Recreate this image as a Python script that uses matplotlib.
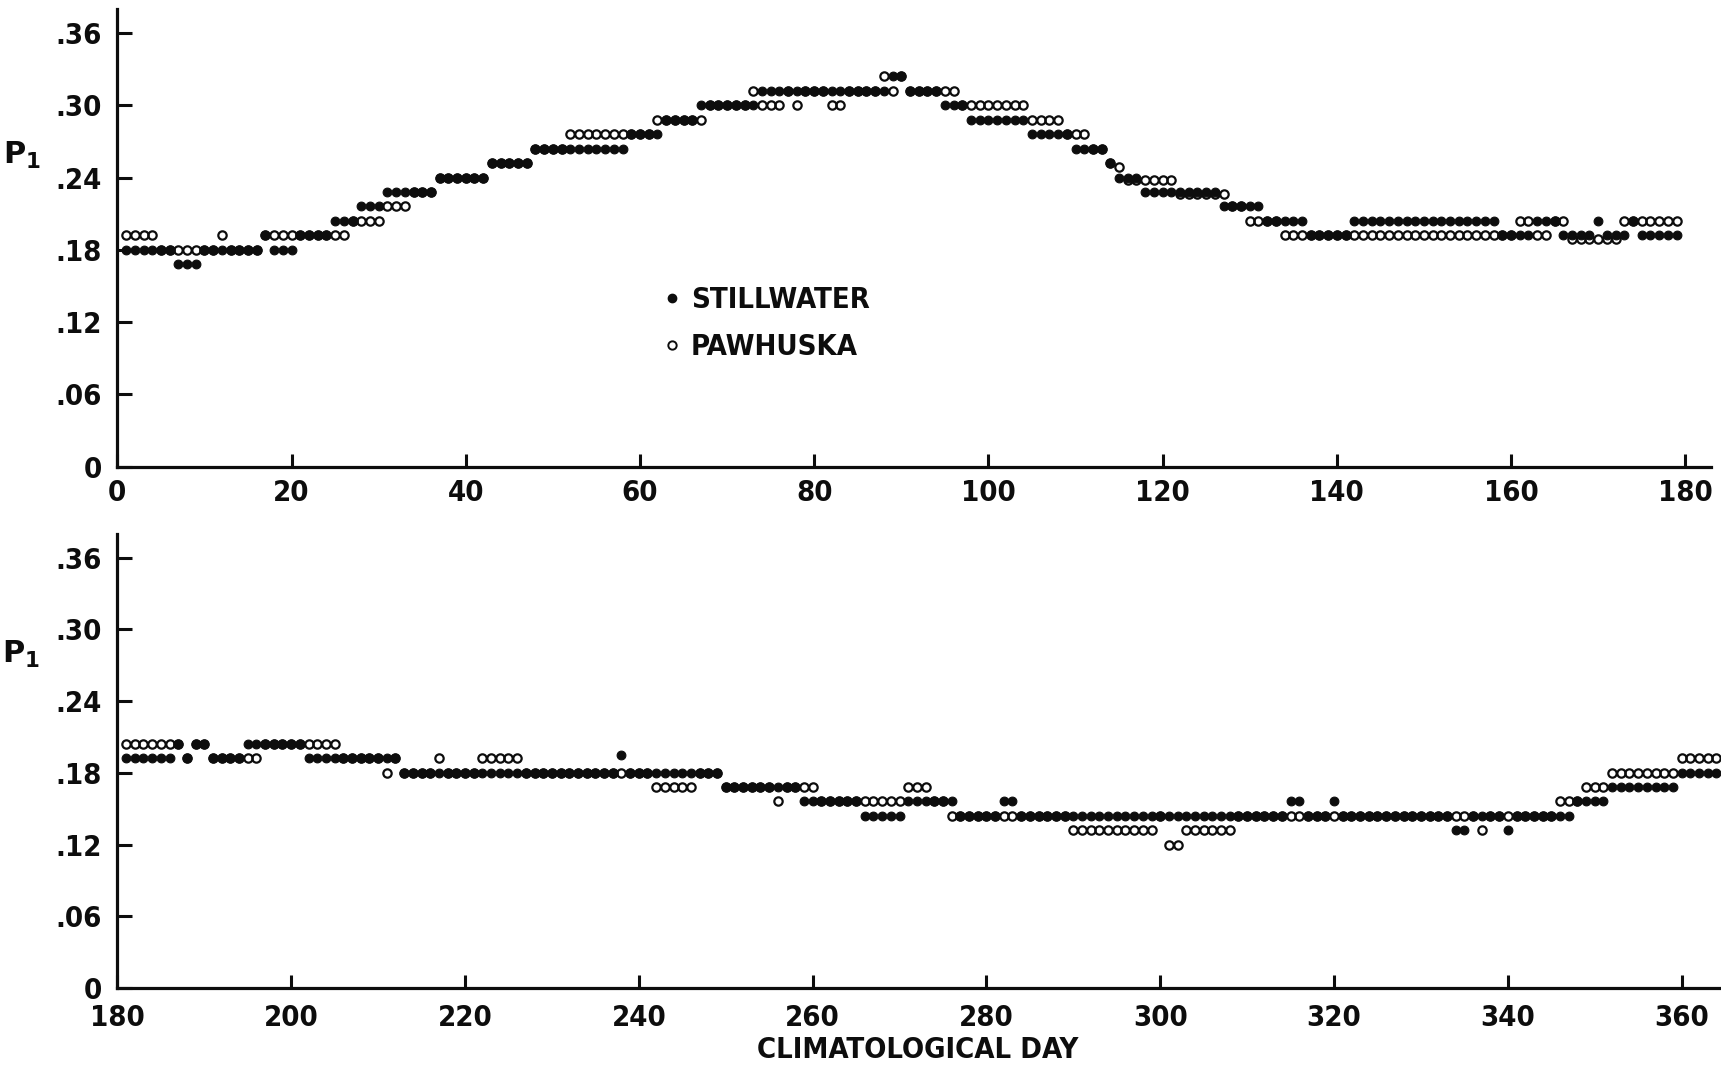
import numpy as np
import matplotlib
matplotlib.use("Agg")
import matplotlib.pyplot as plt
from matplotlib.lines import Line2D

# Daily P1 estimates per station, stored as runs of equal value:
# (first climatological day, last climatological day, P1)
stillwater_runs = [
    (1, 6, .180), (7, 9, .168), (10, 16, .180), (17, 17, .192), (18, 20, .180),
    (21, 24, .192), (25, 27, .204), (28, 30, .216), (31, 36, .228), (37, 42, .240),
    (43, 47, .252), (48, 58, .264), (59, 62, .276), (63, 66, .288), (67, 73, .300),
    (74, 88, .312), (89, 90, .324), (91, 94, .312), (95, 97, .300), (98, 104, .288),
    (105, 109, .276), (110, 113, .264), (114, 114, .252), (115, 117, .240),
    (118, 126, .228), (127, 131, .216), (132, 136, .204), (137, 141, .192),
    (142, 158, .204), (159, 162, .192), (163, 165, .204), (166, 169, .192),
    (170, 170, .204), (171, 173, .192), (174, 174, .204), (175, 179, .192),
    (181, 186, .192), (187, 187, .204), (188, 188, .192), (189, 190, .204),
    (191, 194, .192), (195, 201, .204), (202, 212, .192), (213, 237, .180),
    (238, 238, .195), (239, 249, .180), (250, 258, .168), (259, 265, .156),
    (266, 270, .144), (271, 276, .156), (277, 281, .144), (282, 283, .156),
    (284, 314, .144), (315, 316, .156), (317, 319, .144), (320, 320, .156),
    (321, 333, .144), (334, 335, .132), (336, 339, .144), (340, 340, .132),
    (341, 347, .144), (348, 351, .156), (352, 359, .168), (360, 365, .180),
]

pawhuska_runs = [
    (1, 4, .192), (5, 11, .180), (12, 12, .192), (13, 16, .180), (17, 26, .192),
    (27, 30, .204), (31, 33, .216), (34, 36, .228), (37, 42, .240), (43, 47, .252),
    (48, 51, .264), (52, 61, .276), (62, 67, .288), (68, 72, .300), (73, 73, .312),
    (74, 76, .300), (77, 77, .312), (78, 78, .300), (79, 81, .312), (82, 83, .300),
    (84, 87, .312), (88, 88, .324), (89, 89, .312), (90, 90, .324), (91, 96, .312),
    (97, 104, .300), (105, 108, .288), (109, 111, .276), (112, 113, .264),
    (114, 114, .252), (115, 115, .249), (116, 121, .238), (122, 127, .226),
    (128, 129, .216), (130, 133, .204), (134, 160, .192), (161, 162, .204),
    (163, 164, .192), (165, 166, .204), (167, 172, .189), (173, 179, .204),
    (181, 187, .204), (188, 188, .192), (189, 190, .204), (191, 196, .192),
    (197, 205, .204), (206, 210, .192), (211, 211, .180), (212, 212, .192),
    (213, 216, .180), (217, 217, .192), (218, 221, .180), (222, 226, .192),
    (227, 241, .180), (242, 246, .168), (247, 249, .180), (250, 255, .168),
    (256, 256, .156), (257, 260, .168), (261, 270, .156), (271, 273, .168),
    (274, 275, .156), (276, 289, .144), (290, 299, .132), (300, 300, .144),
    (301, 302, .120), (303, 308, .132), (309, 336, .144), (337, 337, .132),
    (338, 345, .144), (346, 348, .156), (349, 351, .168), (352, 359, .180),
    (360, 365, .192),
]

y_ticks = [0, .06, .12, .18, .24, .30, .36]
y_tick_labels = ["0", ".06", ".12", ".18", ".24", ".30", ".36"]
x_ticks_first_half = list(range(0, 181, 20))
x_ticks_second_half = list(range(180, 361, 20))

station_names = ["STILLWATER", "PAWHUSKA"]
y_axis_label = r"$\mathbf{P_1}$"
x_axis_label = "CLIMATOLOGICAL DAY"


def expand(runs):
    days, vals = [], []
    for first, last, value in runs:
        for d in range(first, last + 1):
            days.append(d)
            vals.append(value)
    return np.array(days), np.array(vals)


sw_days, sw_vals = expand(stillwater_runs)
pw_days, pw_vals = expand(pawhuska_runs)

INK = "#0d0d0d"
FONT = dict(family=["DejaVu Sans"], weight="bold", stretch="condensed")
plt.rcParams["font.family"] = ["DejaVu Sans"]
plt.rcParams["mathtext.fontset"] = "dejavusans"

fig = plt.figure(figsize=(17.21, 10.70), dpi=100, facecolor="white")
ax_top = fig.add_axes([0.0682, 0.5640, 0.9262, 0.4276])
ax_bot = fig.add_axes([0.0682, 0.0766, 0.9318, 0.4247])


def style_axis(ax, xlim, xticks, xpad):
    ax.set_xlim(*xlim)
    ax.set_ylim(0, 0.38)
    for side in ("top", "right"):
        ax.spines[side].set_visible(False)
    for side in ("left", "bottom"):
        ax.spines[side].set_linewidth(2.3)
        ax.spines[side].set_color(INK)
    ax.set_yticks(y_ticks)
    ax.set_yticklabels(y_tick_labels)
    ax.set_xticks(xticks)
    ax.set_xticklabels([str(t) for t in xticks])
    ax.tick_params(axis="y", direction="in", length=11, width=2.2, color=INK,
                   pad=11, labelsize=21, labelcolor=INK)
    ax.tick_params(axis="x", direction="in", length=9.5, width=2.2, color=INK,
                   pad=xpad, labelsize=21, labelcolor=INK)
    for lab in ax.get_xticklabels() + ax.get_yticklabels():
        lab.set_fontweight("bold")
        lab.set_fontstretch("condensed")
    ax.set_facecolor("white")


def draw_points(ax, lo, hi):
    m = (pw_days >= lo) & (pw_days <= hi)
    ax.plot(pw_days[m], pw_vals[m], linestyle="none", marker="o", markersize=6.0,
            markerfacecolor="none", markeredgecolor=INK, markeredgewidth=1.6,
            clip_on=True, zorder=3)
    m = (sw_days >= lo) & (sw_days <= hi)
    ax.plot(sw_days[m], sw_vals[m], linestyle="none", marker="o", markersize=6.3,
            markerfacecolor=INK, markeredgecolor=INK, markeredgewidth=0.8,
            clip_on=True, zorder=4)


style_axis(ax_top, (0, 183), x_ticks_first_half, 9)
style_axis(ax_bot, (180, 364.53), x_ticks_second_half, 11.5)
draw_points(ax_top, 0, 180)
draw_points(ax_bot, 180, 366)

ax_top.text(-0.060, 0.68, y_axis_label, transform=ax_top.transAxes, fontsize=22,
            color=INK, ha="center", va="center")
ax_bot.text(-0.060, 0.735, y_axis_label, transform=ax_bot.transAxes, fontsize=22,
            color=INK, ha="center", va="center")

handles = [
    Line2D([], [], linestyle="none", marker="o", markersize=6, markerfacecolor=INK,
           markeredgecolor=INK),
    Line2D([], [], linestyle="none", marker="o", markersize=6, markerfacecolor="none",
           markeredgecolor=INK, markeredgewidth=1.4),
]
leg = ax_top.legend(handles, station_names, loc="upper left",
                    bbox_to_anchor=(0.326, 0.452), frameon=False,
                    handlelength=0.6, handletextpad=0.35, labelspacing=0.65,
                    prop=dict(family="DejaVu Sans", weight="bold", size=21,
                              stretch="condensed"))
for t in leg.get_texts():
    t.set_color(INK)

fig.text(0.5335, 0.019, x_axis_label, ha="center", va="center", fontsize=21,
         color=INK, **FONT)

fig.savefig("out.png", dpi=100, facecolor="white")
